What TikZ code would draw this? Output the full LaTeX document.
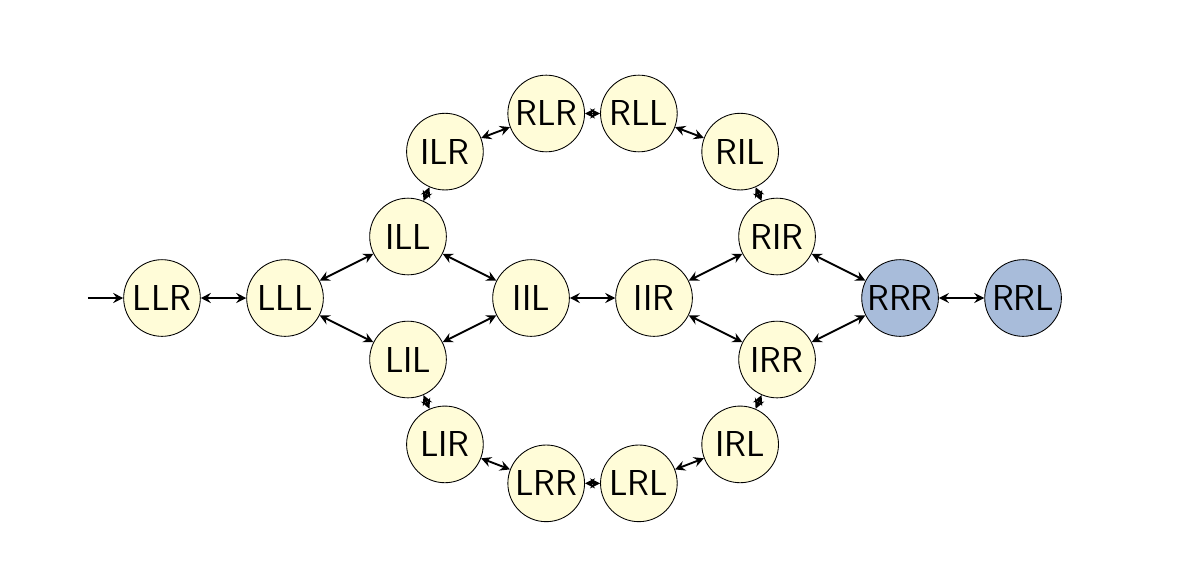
\documentclass[tikz,border=0pt]{standalone}
\usepackage{xcolor}
\usepackage{tikz}
\usetikzlibrary{arrows.meta}
\usetikzlibrary{positioning}
\definecolor{stateyellow}{RGB}{255,252,216}
\definecolor{stateblue}{RGB}{168,188,218}
\begin{document}
\begin{tikzpicture}[line width=1.3pt, >={Stealth[length=7pt,width=7pt,inset=2.5pt]}]
      \tikzstyle{state}=[draw, circle, line width=0.6pt, fill=stateyellow, minimum size=1.87cm, inner sep=0pt,
                         font=\sffamily\fontsize{25}{30}\selectfont]
      \tikzstyle{final}=[state, fill=stateblue]
\useasboundingbox (-3.951,-6.659) rectangle (25.12,7.268);
    \node[state] (LLR) at (0,0) {LLR};
    \node[state] (LLL) at (3,0) {LLL};
    \node[state] (ILL) at (6,1.5) {ILL};
    \node[state] (LIL) at (6,-1.5) {LIL};
    \node[state] (IIL) at (9,0) {IIL};
    \node[state] (IIR) at (12,0) {IIR};
    \node[state] (RIR) at (15,1.5) {RIR};
    \node[state] (IRR) at (15,-1.5) {IRR};
    \node[final] (RRR) at (18,0) {RRR};
    \node[final] (RRL) at (21,0) {RRL};
    \node[state] (ILR) at (6.9,3.57) {ILR};
    \node[state] (RLR) at (9.37,4.5) {RLR};
    \node[state] (RLL) at (11.63,4.5) {RLL};
    \node[state] (RIL) at (14.1,3.57) {RIL};
    \node[state] (LIR) at (6.9,-3.57) {LIR};
    \node[state] (LRR) at (9.37,-4.52) {LRR};
    \node[state] (LRL) at (11.63,-4.52) {LRL};
    \node[state] (IRL) at (14.1,-3.57) {IRL};
    \coordinate (start) at (-1.81,0);
    \draw[->] (start) -- (LLR);
\foreach \from/\to in {LLR/LLL, LLL/ILL, LLL/LIL, ILL/IIL, LIL/IIL, IIL/IIR,
      IIR/RIR, IIR/IRR, RIR/RRR, IRR/RRR, RRR/RRL,
      ILL/ILR, ILR/RLR, RLR/RLL, RLL/RIL, RIL/RIR,
      LIL/LIR, LIR/LRR, LRR/LRL, LRL/IRL, IRL/IRR}{
         \draw[<->] (\from) -- (\to);
      }
   \end{tikzpicture}
\end{document}
